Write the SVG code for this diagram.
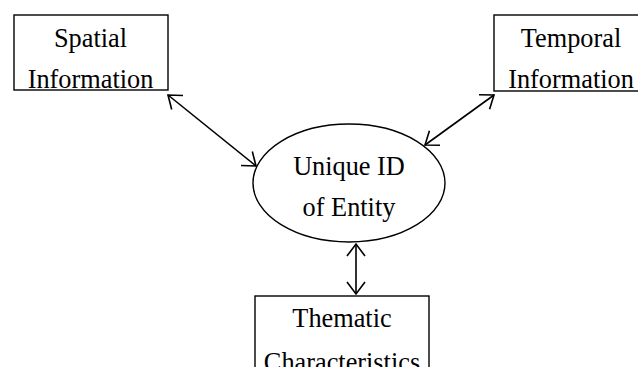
<svg xmlns="http://www.w3.org/2000/svg" width="638" height="367" viewBox="0 0 638 367">
<style>
.box{fill:#fff;stroke:#000;stroke-width:1.4}
.lbl{font-family:"Liberation Serif","Times New Roman",serif;font-size:26.3px;fill:#000;text-anchor:middle}
.conn{stroke:#000;stroke-width:1.6;fill:none;marker-start:url(#ah);marker-end:url(#ah)}
</style>
<defs>
<marker id="ah" markerUnits="userSpaceOnUse" viewBox="-14 -11 16 22" markerWidth="16" markerHeight="22" refX="0" refY="0" orient="auto-start-reverse">
<path d="M-12,-9 L0,0 L-12,9" fill="none" stroke="#000" stroke-width="1.6"/>
</marker>
</defs>
<rect width="638" height="367" fill="#fff"/>
<g id="connectors">
<line class="conn" x1="168" y1="95" x2="256" y2="166"/>
<line class="conn" x1="494" y1="95" x2="425" y2="145"/>
<line class="conn" x1="356" y1="244" x2="356" y2="294"/>
</g>
<g id="spatial">
<rect class="box" x="14" y="15" width="154" height="75"/>
<text class="lbl" x="90.5" y="47">Spatial</text>
<text class="lbl" x="90.5" y="88">Information</text>
</g>
<g id="temporal">
<rect class="box" x="494" y="15" width="154" height="76"/>
<text class="lbl" x="571" y="47">Temporal</text>
<text class="lbl" x="571" y="88">Information</text>
</g>
<g id="entity">
<ellipse class="box" cx="349" cy="183" rx="96" ry="59"/>
<text class="lbl" x="349" y="175">Unique ID</text>
<text class="lbl" x="349" y="216">of Entity</text>
</g>
<g id="thematic">
<rect class="box" x="255" y="296" width="174" height="90"/>
<text class="lbl" x="342" y="327">Thematic</text>
<text class="lbl" x="342" y="371">Characteristics</text>
</g>
</svg>
